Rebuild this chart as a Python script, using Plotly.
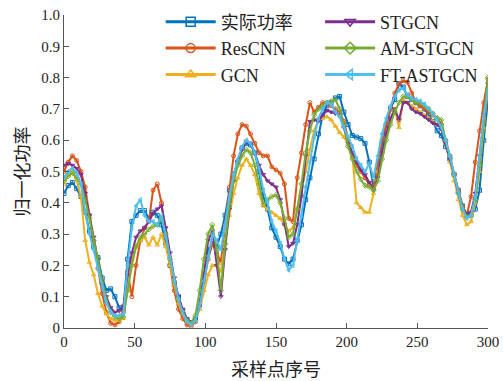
import plotly.graph_objects as go

x_samples = list(range(0, 301, 3))

actual = [0.43,0.455,0.465,0.445,0.42,0.37,0.31,0.26,0.225,0.16,0.12,0.125,0.10,0.065,0.06,0.22,0.34,0.36,0.375,0.375,
          0.35,0.37,0.36,0.33,0.27,0.2,0.14,0.1,0.055,0.025,0.015,0.03,0.08,0.17,0.25,0.27,0.26,0.3,0.36,0.44,
          0.49,0.53,0.575,0.59,0.585,0.56,0.5,0.42,0.38,0.32,0.29,0.26,0.22,0.205,0.22,0.28,0.33,0.41,0.48,0.54,
          0.62,0.68,0.71,0.72,0.735,0.74,0.69,0.65,0.615,0.61,0.605,0.59,0.53,0.45,0.5,0.59,0.65,0.7,0.73,0.78,
          0.77,0.74,0.73,0.72,0.71,0.7,0.68,0.66,0.63,0.615,0.58,0.54,0.49,0.44,0.39,0.36,0.36,0.38,0.44,0.6,0.73]

rescnn = [0.5,0.53,0.55,0.535,0.5,0.45,0.36,0.28,0.19,0.11,0.05,0.015,0.01,0.02,0.05,0.18,0.1,0.2,0.28,0.32,
          0.34,0.44,0.46,0.4,0.3,0.2,0.12,0.06,0.03,0.01,0.005,0.02,0.07,0.15,0.22,0.27,0.24,0.21,0.33,0.45,
          0.55,0.62,0.65,0.645,0.62,0.59,0.56,0.55,0.55,0.515,0.505,0.495,0.46,0.35,0.34,0.48,0.56,0.65,0.72,0.69,
          0.705,0.72,0.72,0.71,0.7,0.69,0.66,0.6,0.55,0.52,0.5,0.48,0.46,0.45,0.52,0.6,0.65,0.7,0.75,0.78,
          0.79,0.785,0.75,0.72,0.71,0.7,0.69,0.68,0.67,0.65,0.6,0.55,0.49,0.44,0.39,0.36,0.42,0.53,0.63,0.72,0.795]

gcn = [0.46,0.49,0.5,0.47,0.42,0.28,0.21,0.17,0.11,0.07,0.045,0.03,0.025,0.025,0.03,0.12,0.22,0.26,0.28,0.29,
       0.265,0.29,0.265,0.3,0.26,0.2,0.14,0.08,0.045,0.02,0.01,0.025,0.06,0.12,0.17,0.2,0.2,0.18,0.27,0.36,
       0.43,0.48,0.52,0.54,0.52,0.49,0.43,0.39,0.38,0.37,0.36,0.35,0.33,0.31,0.32,0.38,0.43,0.5,0.57,0.63,
       0.665,0.67,0.675,0.665,0.645,0.625,0.61,0.59,0.55,0.4,0.385,0.37,0.37,0.43,0.5,0.56,0.61,0.66,0.7,0.64,
       0.73,0.72,0.71,0.7,0.69,0.68,0.67,0.66,0.65,0.64,0.59,0.53,0.47,0.41,0.36,0.33,0.34,0.4,0.5,0.64,0.77]

stgcn = [0.52,0.525,0.52,0.51,0.49,0.43,0.36,0.29,0.22,0.14,0.1,0.065,0.05,0.055,0.07,0.17,0.24,0.29,0.31,0.32,
         0.34,0.365,0.38,0.39,0.32,0.24,0.16,0.1,0.06,0.03,0.02,0.03,0.07,0.17,0.28,0.31,0.2,0.1,0.25,0.38,
         0.47,0.53,0.57,0.595,0.59,0.56,0.52,0.49,0.47,0.46,0.45,0.41,0.33,0.26,0.27,0.33,0.42,0.55,0.66,0.665,
         0.66,0.68,0.695,0.69,0.685,0.68,0.64,0.59,0.56,0.53,0.505,0.49,0.465,0.44,0.48,0.56,0.62,0.67,0.7,0.665,
         0.72,0.72,0.7,0.69,0.685,0.675,0.665,0.655,0.65,0.635,0.59,0.54,0.49,0.43,0.38,0.365,0.37,0.43,0.55,0.68,0.78]

amstgcn = [0.47,0.485,0.495,0.48,0.46,0.41,0.35,0.28,0.22,0.15,0.09,0.05,0.035,0.03,0.035,0.12,0.2,0.26,0.29,0.3,
           0.315,0.325,0.33,0.35,0.3,0.22,0.15,0.09,0.05,0.025,0.015,0.04,0.12,0.22,0.3,0.33,0.25,0.12,0.27,0.39,
           0.47,0.52,0.55,0.57,0.56,0.52,0.46,0.395,0.41,0.42,0.425,0.4,0.35,0.29,0.3,0.38,0.46,0.56,0.63,0.68,
           0.7,0.71,0.72,0.725,0.73,0.7,0.65,0.58,0.54,0.5,0.475,0.455,0.45,0.44,0.47,0.54,0.6,0.65,0.69,0.72,
           0.74,0.74,0.73,0.72,0.72,0.71,0.7,0.685,0.67,0.665,0.6,0.55,0.49,0.43,0.38,0.355,0.36,0.41,0.52,0.66,0.8]

ftastgcn = [0.48,0.5,0.51,0.495,0.46,0.37,0.3,0.25,0.19,0.13,0.08,0.05,0.04,0.04,0.045,0.2,0.32,0.39,0.41,0.36,
            0.34,0.34,0.33,0.36,0.29,0.22,0.15,0.09,0.05,0.02,0.01,0.025,0.07,0.15,0.23,0.3,0.28,0.25,0.33,0.42,
            0.49,0.54,0.58,0.6,0.59,0.56,0.51,0.44,0.4,0.34,0.31,0.27,0.22,0.185,0.2,0.28,0.36,0.45,0.53,0.61,
            0.67,0.7,0.72,0.715,0.69,0.675,0.64,0.61,0.58,0.54,0.52,0.5,0.525,0.48,0.55,0.62,0.67,0.71,0.74,0.76,
            0.765,0.745,0.735,0.73,0.725,0.715,0.7,0.685,0.665,0.64,0.6,0.55,0.49,0.43,0.38,0.35,0.36,0.42,0.55,0.68,0.76]

series = [
    ("实际功率", actual, "#0072BD", "square-open", "legend"),
    ("ResCNN", rescnn, "#D95319", "circle-open", "legend"),
    ("GCN", gcn, "#EDB120", "triangle-up-open", "legend"),
    ("STGCN", stgcn, "#7E2F8E", "triangle-down-open", "legend2"),
    ("AM-STGCN", amstgcn, "#77AC30", "diamond-open", "legend2"),
    ("FT-ASTGCN", ftastgcn, "#4DBEEE", "triangle-left-open", "legend2"),
]

fig = go.Figure()
for name, vals, color, sym, lg in series:
    fig.add_trace(go.Scatter(
        x=x_samples, y=vals, mode="lines+markers", name=name, showlegend=False,
        line=dict(color=color, width=2),
        marker=dict(symbol=sym, size=4, color=color, line=dict(width=1, color=color)),
    ))
for name, vals, color, sym, lg in series:
    fig.add_trace(go.Scatter(
        x=[None], y=[None], mode="lines+markers", name=name, legend=lg,
        line=dict(color=color, width=3),
        marker=dict(symbol=sym, size=9, color=color, line=dict(width=1.5, color=color)),
    ))

font_main = "Liberation Serif, Times New Roman, Noto Sans CJK SC"
axis_common = dict(
    showline=True, linecolor="#555", linewidth=1.2, mirror=False, automargin=False,
    ticks="inside", ticklen=5, tickcolor="#555", showgrid=False, zeroline=False,
    tickfont=dict(family=font_main, size=15, color="#222"),
)

W, H = 503, 381
ML, MR, MT, MB = 64, 15, 15, 53
PW, PH = W - ML - MR, H - MT - MB

fig.update_layout(
    template="none",
    width=W, height=H,
    margin=dict(l=ML, r=MR, t=MT, b=MB, autoexpand=False),
    paper_bgcolor="white", plot_bgcolor="white",
    font=dict(family=font_main, color="#222"),
    xaxis=dict(range=[0, 300], tickvals=[0, 50, 100, 150, 200, 250, 300], **axis_common),
    yaxis=dict(range=[0, 1.0], tickvals=[i / 10 for i in range(11)],
               ticktext=["0"] + [f"{i/10:.1f}" for i in range(1, 11)], **axis_common),
    legend=dict(x=0.228, y=1 + 11.5 / PH, xanchor="left", yanchor="top", bgcolor="rgba(0,0,0,0)",
                font=dict(family=font_main, size=18, color="#222"), tracegroupgap=0, itemwidth=50),
    legend2=dict(x=0.604, y=1 + 11.5 / PH, xanchor="left", yanchor="top", bgcolor="rgba(0,0,0,0)",
                 font=dict(family=font_main, size=18, color="#222"), tracegroupgap=0, itemwidth=50),
    annotations=[
        dict(text="采样点序号", xref="paper", yref="paper", x=0.5, y=-(368 - (H - MB)) / PH,
             yanchor="middle", xanchor="center", showarrow=False,
             font=dict(family="Noto Sans CJK SC", size=18, color="#222")),
        dict(text="归一化功率", xref="paper", yref="paper", x=-(ML - 20) / PW, y=0.5, textangle=-90,
             xanchor="center", yanchor="middle", showarrow=False,
             font=dict(family="Noto Sans CJK SC", size=18, color="#222")),
    ],
)

fig.write_html("out.html", config={"displayModeBar": False},
               post_script="document.body.style.margin='0';")
